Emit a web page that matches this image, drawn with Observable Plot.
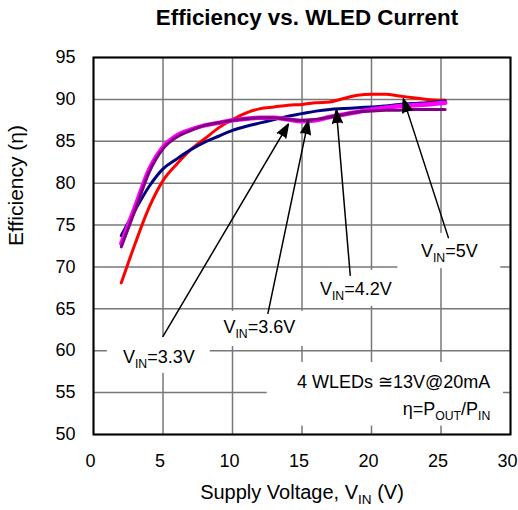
<!DOCTYPE html>
<html><head><meta charset="utf-8">
<script src="https://cdn.jsdelivr.net/npm/d3@7"></script>
<script src="https://cdn.jsdelivr.net/npm/@observablehq/plot@0.6"></script>
<style>
body{margin:0;background:#fff;font-family:"Liberation Sans",Arial,sans-serif;}
#title{width:518px;height:40px;box-sizing:border-box;padding-top:5px;padding-left:96px;text-align:center;font-weight:bold;font-size:22.4px;line-height:25px;color:#000;}
#chart svg{display:block;}
</style></head><body>
<div id="title">Efficiency vs. WLED Current</div>
<div id="chart"></div>
<script>
// ---- data (supply voltage in V, efficiency in %) ----
const voltage = [2,3,4,5,6,7,8,9,10,11,12,13,14,15,16,17,18,19,20,21,22,23,24,25.3];
const eff5V  = [68.1,72.8,77.1,80.3,82.3,84.0,85.3,86.6,87.6,88.4,88.9,89.1,89.3,89.4,89.6,89.7,90.1,90.5,90.6,90.6,90.4,90.2,90.0,89.9];
const eff42V = [73.75,76.8,79.6,81.7,82.9,84.0,84.9,85.6,86.3,86.8,87.2,87.6,88.0,88.3,88.6,88.8,88.9,89.0,89.1,89.2,89.4,89.5,89.6,89.8];
const eff36V = [72.8,77.2,81.6,84.3,85.7,86.4,86.9,87.2,87.5,87.7,87.8,87.8,87.6,87.4,87.5,87.9,88.2,88.5,88.8,89.0,89.2,89.3,89.4,89.6];
const eff33V = [72.4,76.8,81.3,84.1,85.5,86.3,86.9,87.2,87.5,87.7,87.8,87.8,87.6,87.5,87.6,87.9,88.2,88.5,88.6,88.7,88.7,88.8,88.8,88.8];
const xTicks = [0,5,10,15,20,25,30];
const yTicks = [50,55,60,65,70,75,80,85,90,95];

// ---- annotations ----
const labelText = ["V_{IN}=5V","V_{IN}=4.2V","V_{IN}=3.6V","V_{IN}=3.3V"];
const labelX = [25.6, 18.87, 11.93, 4.7];
const labelY = [71.13, 66.6, 62.1, 58.5];
const arrowFromX = [25.53, 18.47, 12.55, 5.0];
const arrowFromY = [73.5, 69.0, 64.46, 61.7];
const arrowToX = [22.29, 17.47, 15.45, 14.02];
const arrowToY = [90.06, 88.75, 87.44, 87.05];
const boxX1 = [21.9, 15.6, 8.8, 1.0, 12.5];
const boxX2 = [29.3, 22.2, 15.3, 8.4, 29.5];
const boxY1 = [69.8, 65.3, 60.5, 57.3, 51.0];
const boxY2 = [74.0, 69.6, 64.7, 61.6, 58.6];
const noteText = ["4 WLEDs \u224513V@20mA", "\u03b7=P_{OUT}/P_{IN}"];
const noteX = [28.55, 28.55];
const noteY = [55.54, 52.3];
const xLabel = "Supply Voltage, V_{IN} (V)";
const yLabel = "Efficiency (\u03b7)";

const toRows = (vals) => voltage.map((v, i) => ({v, eff: vals[i]}));
const idx4 = d3.range(labelText.length);
const idxBox = d3.range(boxX1.length);
const idxNote = d3.range(noteText.length);

const plot = Plot.plot({
  width: 518, height: 470,
  marginLeft: 93, marginRight: 8, marginTop: 17, marginBottom: 76,
  style: {fontFamily: "'Liberation Sans', Arial, sans-serif", fontSize: "18px", color: "black", background: "white"},
  x: {domain: [0, 30], label: null},
  y: {domain: [50, 95], label: null},
  marks: [
    Plot.gridX(xTicks, {stroke: "#777", strokeOpacity: 1, strokeWidth: 1.5}),
    Plot.gridY(yTicks, {stroke: "#777", strokeOpacity: 1, strokeWidth: 1.5}),
    Plot.axisX({ticks: xTicks, tickSize: 0, tickPadding: 20, tickFormat: d => d, dx: -3, label: null}),
    Plot.axisY({ticks: yTicks, tickSize: 0, tickPadding: 18, tickFormat: d => d, label: null}),
    Plot.rect(idxBox, {x1: i => boxX1[i], x2: i => boxX2[i], y1: i => boxY1[i], y2: i => boxY2[i], fill: "white"}),
    Plot.line(toRows(eff5V), {x: "v", y: "eff", stroke: "#ff0000", strokeWidth: 3, curve: "monotone-x"}),
    Plot.line(toRows(eff42V), {x: "v", y: "eff", stroke: "#000080", strokeWidth: 3, curve: "monotone-x"}),
    Plot.line(toRows(eff36V), {x: "v", y: "eff", stroke: "#ff00ff", strokeWidth: 4.5, curve: "monotone-x"}),
    Plot.line(toRows(eff33V), {x: "v", y: "eff", stroke: "#800080", strokeWidth: 3, curve: "monotone-x"}),
    Plot.arrow(idx4, {x1: i => arrowFromX[i], y1: i => arrowFromY[i], x2: i => arrowToX[i], y2: i => arrowToY[i],
      stroke: "black", fill: "black", strokeWidth: 1.5, headLength: 14, headAngle: 40}),
    Plot.text(idx4, {x: i => labelX[i], y: i => labelY[i], text: i => labelText[i], lineAnchor: "bottom", textAnchor: "middle", fontSize: 18}),
    Plot.text(idxNote, {x: i => noteX[i], y: i => noteY[i], text: i => noteText[i], lineAnchor: "bottom", textAnchor: "end", fontSize: 18}),
    Plot.text([xLabel], {frameAnchor: "bottom", lineAnchor: "bottom", dy: 64, fontSize: 20}),
    Plot.text([yLabel], {frameAnchor: "left", rotate: -90, lineAnchor: "bottom", dx: -71, dy: 0, fontSize: 21}),
    Plot.frame({stroke: "black", strokeWidth: 2})
  ]
});

// turn _{...} into subscripts
d3.select(plot).selectAll("text").each(function() {
  const t = this.textContent;
  if (!t.includes("_{")) return;
  const parts = t.split(/(_\{[^}]*\})/).filter(s => s);
  const sel = d3.select(this);
  sel.text(null);
  let shifted = false;
  for (const p of parts) {
    if (p.startsWith("_{")) {
      sel.append("tspan").attr("dy", 5).attr("font-size", "0.68em").text(p.slice(2, -1));
      shifted = true;
    } else {
      const ts = sel.append("tspan").text(p);
      if (shifted) ts.attr("dy", -5);
      shifted = false;
    }
  }
});

document.getElementById("chart").appendChild(plot);
</script>
</body></html>
